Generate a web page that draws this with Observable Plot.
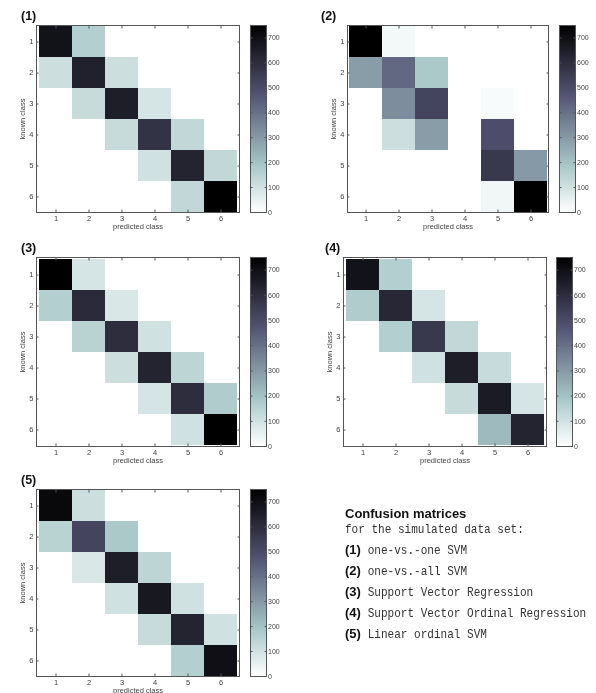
<!DOCTYPE html>
<html><head><meta charset="utf-8">
<script src="https://cdn.jsdelivr.net/npm/d3@7"></script>
<script src="https://cdn.jsdelivr.net/npm/@observablehq/plot@0.6"></script>
<style>
body{margin:0;background:#fff;}
#root{position:relative;width:596px;height:693px;overflow:hidden;background:#fff;}
#root svg{position:absolute;overflow:visible;will-change:transform;}
</style></head><body><div id="root"></div>
<script>
// ---- data ----
const classes = [1, 2, 3, 4, 5, 6];
const colorTicks = [0, 100, 200, 300, 400, 500, 600, 700];
const colorMax = 750;
const xLabel = "predicted class";
const yLabel = "known class";
const panelTitles = ["(1)", "(2)", "(3)", "(4)", "(5)"];
// rows = known class, columns = predicted class
const m1 = [
  [690, 160, 0, 0, 0, 0],
  [110, 640, 110, 0, 0, 0],
  [0, 120, 650, 90, 0, 0],
  [0, 0, 120, 580, 130, 0],
  [0, 0, 0, 100, 630, 130],
  [0, 0, 0, 0, 130, 760]
];
const m2 = [
  [800, 25, 0, 0, 0, 0],
  [290, 420, 180, 0, 0, 0],
  [0, 330, 520, 0, 15, 0],
  [0, 110, 290, 0, 490, 0],
  [0, 0, 0, 0, 560, 300],
  [0, 0, 0, 0, 30, 830]
];
const m3 = [
  [770, 90, 0, 0, 0, 0],
  [160, 610, 80, 0, 0, 0],
  [0, 150, 600, 100, 0, 0],
  [0, 0, 110, 630, 140, 0],
  [0, 0, 0, 90, 600, 170],
  [0, 0, 0, 0, 100, 770]
];
const m4 = [
  [690, 160, 0, 0, 0, 0],
  [170, 620, 90, 0, 0, 0],
  [0, 160, 560, 130, 0, 0],
  [0, 0, 100, 650, 120, 0],
  [0, 0, 0, 120, 660, 90],
  [0, 0, 0, 0, 220, 630]
];
const m5 = [
  [720, 110, 0, 0, 0, 0],
  [150, 520, 180, 0, 0, 0],
  [0, 80, 650, 140, 0, 0],
  [0, 0, 100, 670, 100, 0],
  [0, 0, 0, 120, 630, 100],
  [0, 0, 0, 0, 160, 700]
];
const legendTitle = "Confusion matrices";
const legendSub = "for the simulated data set:";
const methodKeys = ["(1)", "(2)", "(3)", "(4)", "(5)"];
const methods = ["one-vs.-one SVM", "one-vs.-all SVM", "Support Vector Regression",
  "Support Vector Ordinal Regression", "Linear ordinal SVM"];

// ---- layout ----
const matrices = [m1, m2, m3, m4, m5];
const layout = [
  {L: 36, R: 239, T: 25, B: 212, cbL: 250, cbR: 266, tx: 21},
  {L: 347, R: 548, T: 25, B: 212, cbL: 559, cbR: 575, tx: 321},
  {L: 36, R: 239, T: 257, B: 446, cbL: 250, cbR: 266, tx: 21},
  {L: 343, R: 546, T: 257, B: 446, cbL: 556, cbR: 572, tx: 325},
  {L: 36, R: 239, T: 489, B: 676, cbL: 250, cbR: 266, tx: 21}
];

// reversed MATLAB "bone" colormap
function boneRev(t) {
  const x = 1 - Math.max(0, Math.min(1, t));
  const hr = Math.min(1, x / 0.375);
  const hg = Math.max(0, Math.min(1, (x - 0.375) / 0.375));
  const hb = Math.max(0, Math.min(1, (x - 0.75) / 0.25));
  const r = (7 * x + hb) / 8, g = (7 * x + hg) / 8, b = (7 * x + hr) / 8;
  return `rgb(${Math.round(r * 255)},${Math.round(g * 255)},${Math.round(b * 255)})`;
}
const colorScale = {type: "linear", domain: [0, colorMax], interpolate: boneRev, clamp: true};

const root = document.getElementById("root");
const font = "'Liberation Sans', Arial, sans-serif";
const MT = 25, MB = 24, ML = 36, MR = 6;

matrices.forEach((m, i) => {
  const p = layout[i];
  const data = classes.flatMap(k => classes.map(c => ({known: k, pred: c, v: m[k - 1][c - 1]})));
  const chart = Plot.plot({
    width: (p.R - p.L) + ML + MR,
    height: (p.B - p.T) + MT + MB,
    marginLeft: ML, marginRight: MR, marginTop: MT, marginBottom: MB,
    style: {fontFamily: font, fontSize: "7.5px", color: "#444", background: "transparent", overflow: "visible"},
    x: {type: "band", domain: classes, padding: 0},
    y: {type: "band", domain: classes, padding: 0},
    color: colorScale,
    marks: [
      Plot.cell(data, {x: "pred", y: "known", fill: "v", shapeRendering: "crispEdges"}),
      Plot.frame({stroke: "#555"}),
      Plot.axisX({anchor: "bottom", tickSize: 0, tickPadding: 3, label: xLabel, labelAnchor: "center", labelOffset: 16}),
      Plot.axisX({anchor: "bottom", tickSize: -2.5, tickFormat: () => "", label: null, stroke: "#555"}),
      Plot.axisX({anchor: "top", tickSize: -2.5, tickFormat: () => "", label: null, stroke: "#555"}),
      Plot.axisY({anchor: "left", tickSize: 0, tickPadding: 3, label: yLabel, labelAnchor: "center", labelOffset: 17}),
      Plot.axisY({anchor: "left", tickSize: -2.5, tickFormat: () => "", label: null, stroke: "#555"}),
      Plot.axisY({anchor: "right", tickSize: -2.5, tickFormat: () => "", label: null, stroke: "#555"})
    ]
  });
  chart.style.left = (p.L - ML) + "px";
  chart.style.top = (p.T - MT) + "px";
  root.appendChild(chart);

  // colorbar
  const step = 2.5;
  const stops = d3.range(0, colorMax, step);
  const cML = 5, cMR = 26;
  const cb = Plot.plot({
    width: (p.cbR - p.cbL) + cML + cMR,
    height: (p.B - p.T) + MT + MB,
    marginLeft: cML, marginRight: cMR, marginTop: MT, marginBottom: MB,
    style: {fontFamily: font, fontSize: "7px", color: "#444", background: "transparent", overflow: "visible"},
    x: {domain: [0, 1], axis: null},
    y: {domain: [0, colorMax]},
    color: colorScale,
    marks: [
      Plot.rect(stops, {x1: 0, x2: 1, y1: d => d, y2: d => Math.min(colorMax, d + step * 2), fill: d => d + step / 2, shapeRendering: "crispEdges"}),
      Plot.frame({stroke: "#555"}),
      Plot.axisY({anchor: "right", ticks: colorTicks, tickSize: 0, tickPadding: 1.5, label: null}),
      Plot.axisY({anchor: "right", ticks: colorTicks, tickSize: -2.5, tickFormat: () => "", label: null, stroke: "#555"}),
      Plot.axisY({anchor: "left", ticks: colorTicks, tickSize: -2.5, tickFormat: () => "", label: null, stroke: "#555"})
    ]
  });
  cb.style.left = (p.cbL - cML) + "px";
  cb.style.top = (p.T - MT) + "px";
  root.appendChild(cb);
});

// titles and legend text
const ov = d3.select(root).append("svg")
  .attr("width", 596).attr("height", 693)
  .style("left", "0px").style("top", "0px");
layout.forEach((p, i) => {
  ov.append("text").attr("x", p.tx).attr("y", p.T - 5.5)
    .attr("font-family", font).attr("font-weight", "bold").attr("font-size", 12.5)
    .attr("fill", "#111").text(panelTitles[i]);
});
const lx = 345, mono = "'Liberation Mono', 'DejaVu Sans Mono', monospace", sx = 0.85;
ov.append("text").attr("x", lx).attr("y", 518)
  .attr("font-family", font).attr("font-weight", "bold").attr("font-size", 13)
  .attr("fill", "#111").text(legendTitle);
ov.append("text").attr("transform", `translate(${lx},532.7) scale(${sx},1)`)
  .attr("font-family", mono).attr("font-size", 13).attr("fill", "#333")
  .text(legendSub);
methods.forEach((t, i) => {
  const y = 554 + i * 21;
  ov.append("text").attr("x", lx).attr("y", y)
    .attr("font-family", font).attr("font-weight", "bold").attr("font-size", 13)
    .attr("fill", "#111").text(methodKeys[i]);
  ov.append("text").attr("transform", `translate(367.7,${y}) scale(${sx},1)`)
    .attr("font-family", mono).attr("font-size", 13).attr("fill", "#333")
    .text(t);
});
</script></body></html>
